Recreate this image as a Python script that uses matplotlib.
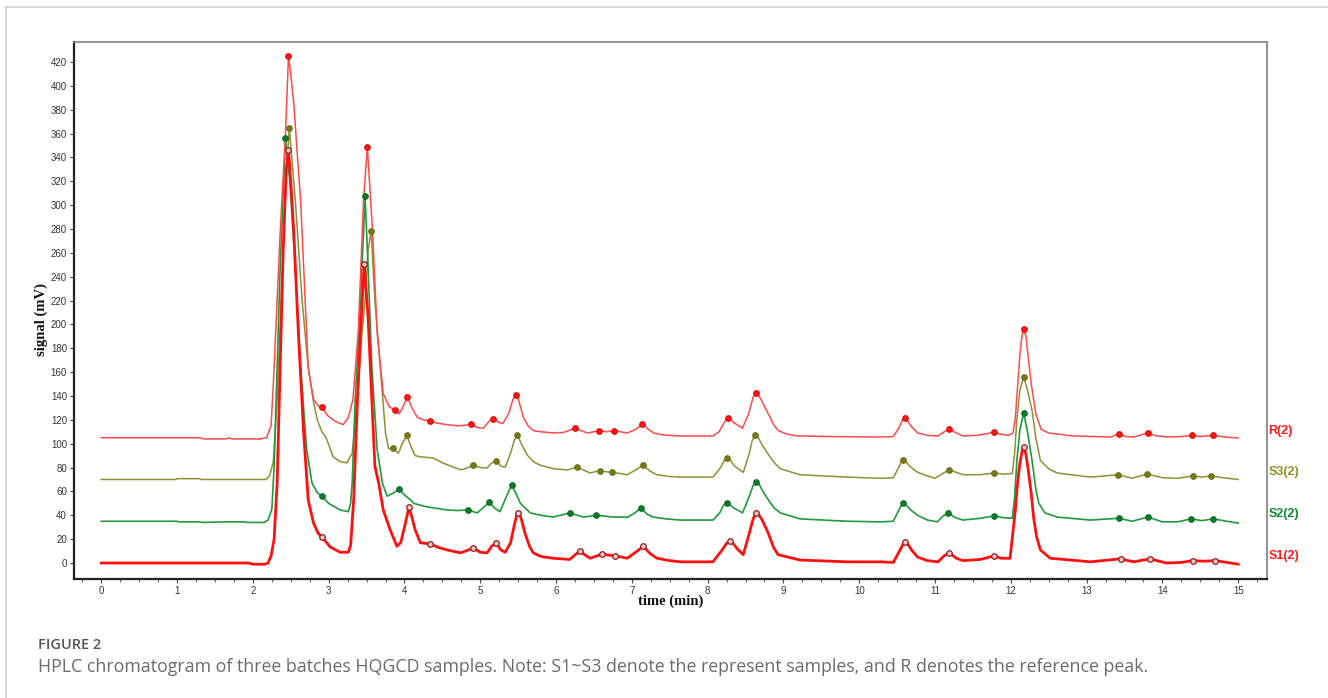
import matplotlib
matplotlib.use("Agg")
import matplotlib.pyplot as plt
from matplotlib.lines import Line2D
from matplotlib.ticker import MultipleLocator
import matplotlib.transforms as mtransforms

# ---------------- data ----------------
R_t = [0.0, 1.3, 1.36, 1.65, 1.68, 1.72, 2.1, 2.18, 2.24, 2.27, 2.30, 2.36, 2.43, 2.47, 2.50, 2.54,
       2.60, 2.63, 2.69, 2.73, 2.80, 2.86, 2.91, 2.98, 3.08, 3.19, 3.26, 3.32, 3.39, 3.46, 3.51, 3.58,
       3.64, 3.72, 3.80, 3.88, 3.93, 3.98, 4.04, 4.10, 4.17, 4.25, 4.34, 4.45, 4.56, 4.70, 4.80, 4.88,
       4.96, 5.04, 5.12, 5.17, 5.24, 5.30, 5.38, 5.43, 5.47, 5.50, 5.53, 5.57, 5.63, 5.70, 5.80, 5.96,
       6.10, 6.25, 6.33, 6.41, 6.50, 6.57, 6.66, 6.76, 6.85, 6.94, 7.05, 7.14, 7.22, 7.29, 7.40, 7.64,
       8.07, 8.15, 8.22, 8.27, 8.31, 8.36, 8.46, 8.54, 8.60, 8.64, 8.68, 8.72, 8.80, 8.87, 8.93, 9.05,
       9.18, 9.6, 10.28, 10.45, 10.53, 10.57, 10.60, 10.63, 10.68, 10.77, 10.90, 11.04, 11.12, 11.19,
       11.28, 11.37, 11.55, 11.70, 11.78, 11.86, 11.97, 12.03, 12.06, 12.08, 12.12, 12.15, 12.17, 12.20,
       12.22, 12.27, 12.33, 12.40, 12.50, 12.82, 13.31, 13.43, 13.52, 13.62, 13.81, 13.92, 14.1, 14.25,
       14.39, 14.50, 14.67, 14.8, 15.0]
R_v = [105, 105, 104, 104, 105, 104, 104, 105, 115, 150, 193, 277, 360, 425, 410, 385,
       330, 304, 220, 164, 137, 132, 131, 124, 119, 116, 122, 137, 193, 304, 349, 277,
       193, 142, 131, 128, 125, 131, 139, 130, 122, 120, 119, 117, 116, 115, 115.5, 116.5,
       113.5, 113, 119, 121, 118, 117, 126, 137, 141, 138, 131, 122, 115, 111, 110, 109,
       109.5, 113, 111, 109, 110, 111, 110, 111, 110, 109, 112, 116.5, 112, 109, 107.5, 106.5,
       106.5, 110, 118, 121.5, 120, 117, 113, 125, 139, 142.5, 140, 135, 125, 116, 111, 108,
       106.5, 106, 105.6, 106, 114, 120, 121.5, 120, 115, 109, 107, 106.5, 110, 112,
       109, 106.5, 107, 108.5, 110, 108, 107, 109, 122, 140, 175, 192, 196, 190,
       178, 150, 125, 112, 109, 106.5, 105.6, 108, 106, 105.6, 109, 106.5, 105.6, 106,
       107, 106, 107, 105.8, 104.8]

S3_t = [0, 0.98, 1.0, 1.3, 1.32, 2.17, 2.22, 2.27, 2.32, 2.39, 2.45, 2.48, 2.56, 2.65, 2.73, 2.80,
        2.85, 2.91, 2.96, 3.06, 3.15, 3.24, 3.31, 3.38, 3.44, 3.48, 3.52, 3.56, 3.61, 3.68, 3.75, 3.79,
        3.85, 3.92, 3.97, 4.03, 4.09, 4.14, 4.21, 4.38, 4.50, 4.64, 4.75, 4.84, 4.91, 5.00, 5.09, 5.15,
        5.21, 5.28, 5.33, 5.40, 5.45, 5.49, 5.55, 5.62, 5.70, 5.79, 5.97, 6.15, 6.28, 6.36, 6.45, 6.58,
        6.66, 6.74, 6.85, 6.94, 7.05, 7.15, 7.24, 7.33, 7.50, 7.64, 8.07, 8.16, 8.22, 8.26, 8.30, 8.36,
        8.47, 8.55, 8.59, 8.63, 8.67, 8.71, 8.79, 8.88, 8.96, 9.22, 9.84, 10.28, 10.45, 10.52, 10.56,
        10.58, 10.62, 10.67, 10.77, 10.90, 11.0, 11.10, 11.19, 11.28, 11.37, 11.60, 11.78, 11.90, 12.02,
        12.05, 12.08, 12.12, 12.17, 12.22, 12.28, 12.33, 12.39, 12.50, 12.61, 13.05, 13.42, 13.6, 13.8,
        14.0, 14.2, 14.4, 14.52, 14.64, 14.8, 15.0]
S3_v = [70, 70, 70.7, 70.7, 70, 70, 73, 85, 137, 248, 332, 365, 304, 220, 164, 135,
        120, 110, 106, 89, 85, 84, 92, 137, 193, 220, 262, 278, 220, 164, 109, 96,
        96, 92, 100, 107, 97, 90, 89, 88, 84, 80.5, 78, 80, 82, 80, 79.5, 84,
        85.5, 81, 80.5, 92, 103, 107, 99, 90.5, 85, 82, 79, 78, 80.5, 78, 75.5, 77.5,
        76.5, 76, 75, 74, 78, 82, 77, 74, 72.5, 72, 72, 79, 86, 88, 86, 81,
        76, 92, 103, 107, 105, 100, 92, 84, 79, 74, 72, 71, 71.5, 80, 85,
        86, 84.5, 81, 76, 73, 71, 75, 78, 76, 74, 74, 75.5, 74.5, 75,
        92, 120, 145, 156, 145, 128, 105, 86, 79, 75.5, 72, 74, 71, 74.5,
        71.5, 71, 73, 72, 73, 71.5, 70]

S2_t = [0, 1.0, 1.02, 1.3, 1.35, 1.65, 1.9, 1.92, 2.15, 2.20, 2.25, 2.28, 2.32, 2.36, 2.40, 2.43,
        2.49, 2.56, 2.63, 2.71, 2.78, 2.85, 2.91, 3.0, 3.15, 3.26, 3.29, 3.31, 3.35, 3.42, 3.46, 3.48,
        3.52, 3.57, 3.64, 3.71, 3.77, 3.85, 3.93, 4.00, 4.08, 4.12, 4.30, 4.56, 4.70, 4.84, 4.96, 5.05,
        5.12, 5.19, 5.26, 5.34, 5.39, 5.42, 5.48, 5.53, 5.66, 5.80, 5.96, 6.18, 6.36, 6.53, 6.76, 6.95,
        7.04, 7.12, 7.20, 7.28, 7.45, 7.64, 8.07, 8.16, 8.21, 8.25, 8.29, 8.35, 8.46, 8.55, 8.60, 8.64,
        8.68, 8.72, 8.80, 8.88, 8.96, 9.22, 9.84, 10.28, 10.45, 10.52, 10.56, 10.58, 10.62, 10.67, 10.77,
        10.90, 11.03, 11.10, 11.17, 11.27, 11.37, 11.60, 11.78, 11.90, 12.02, 12.05, 12.08, 12.12, 12.17,
        12.22, 12.28, 12.33, 12.37, 12.45, 12.61, 13.05, 13.43, 13.60, 13.81, 14.0, 14.2, 14.38, 14.52,
        14.67, 14.85, 15.0]
S2_v = [35, 35, 34.5, 34.5, 34, 34.5, 34.5, 34, 34, 36, 45, 80, 164, 248, 310, 356,
        318, 248, 164, 95, 67, 59, 56, 50, 44.5, 43, 50, 67, 137, 220, 277, 308,
        248, 164, 95, 67, 56, 58.5, 62, 57, 53, 50, 47, 44.5, 44, 44.5, 42, 47,
        51, 46, 43, 55, 62, 65, 57, 50, 42, 40, 38.5, 42, 38.5, 40, 38.5, 38.5,
        42, 46, 41, 38.5, 37, 36, 36, 42, 48.5, 50.5, 49, 46, 42, 56, 65, 68,
        66, 61, 53, 46, 42, 37, 35, 34.5, 35, 44, 49, 50, 48.5, 45, 40,
        36, 34.5, 39, 42, 38, 36, 37.5, 39.5, 38, 37.5, 55, 86, 112, 125.5,
        110, 86, 62, 50, 42, 38.5, 36, 37.5, 35, 38.5, 34.5, 34.5, 37, 35.5,
        37, 35, 33.5]

S1_t = [0, 1.95, 2.0, 2.16, 2.20, 2.24, 2.28, 2.32, 2.36, 2.40, 2.44, 2.47, 2.50, 2.54, 2.60, 2.67,
        2.73, 2.80, 2.86, 2.91, 3.02, 3.15, 3.26, 3.29, 3.33, 3.38, 3.42, 3.47, 3.52, 3.57, 3.61, 3.66,
        3.72, 3.81, 3.90, 3.95, 4.00, 4.06, 4.10, 4.14, 4.21, 4.34, 4.45, 4.56, 4.74, 4.91, 5.00, 5.09,
        5.15, 5.21, 5.27, 5.33, 5.40, 5.45, 5.48, 5.50, 5.53, 5.55, 5.59, 5.65, 5.70, 5.80, 5.96, 6.18,
        6.31, 6.40, 6.45, 6.61, 6.70, 6.78, 6.94, 7.05, 7.15, 7.24, 7.33, 7.50, 7.64, 8.07, 8.18, 8.25,
        8.30, 8.34, 8.39, 8.47, 8.55, 8.60, 8.64, 8.68, 8.72, 8.80, 8.87, 8.93, 9.22, 9.84, 10.28, 10.45,
        10.53, 10.58, 10.61, 10.64, 10.69, 10.77, 10.9, 11.04, 11.12, 11.19, 11.28, 11.37, 11.60, 11.78,
        11.87, 11.99, 12.06, 12.09, 12.12, 12.15, 12.17, 12.20, 12.23, 12.27, 12.30, 12.34, 12.39, 12.52,
        13.05, 13.45, 13.62, 13.84, 14.05, 14.25, 14.40, 14.55, 14.70, 14.85, 15.0]
S1_v = [0, 0, -1, -1, 0, 6, 20, 67, 164, 262, 330, 346, 320, 277, 193, 109,
        53, 33.5, 25, 22, 13.5, 9, 9, 15, 53, 137, 193, 251, 206, 137, 81, 67,
        44.5, 28, 14, 17, 30, 47, 38, 28, 17, 16, 13, 11, 8.5, 12.5, 9, 8.5,
        14, 17, 11, 9, 17, 32, 40, 42, 39, 35, 25, 14, 8.5, 5.5, 4, 3,
        10, 6, 4, 7.5, 6.5, 6, 4, 9, 14, 8, 4, 2, 1, 1, 10, 16.5,
        18.5, 16, 12, 7, 25, 37, 42, 40, 36, 25, 13, 7, 2.5, 1, 1, 0.5,
        10, 16, 17.5, 16, 11, 5, 2, 1, 6, 8.5, 4, 2, 3, 6,
        4, 4, 44.5, 68, 84, 94, 97, 91, 78, 58, 38.5, 22, 11, 4,
        1, 3.5, 1, 3.5, 0, 0.5, 2, 1.5, 2, 0.5, -1]

# integrated peak marks
R_pk_t = [2.47, 2.91, 3.51, 3.88, 4.04, 4.34, 4.88, 5.17, 5.47, 6.25, 6.57, 6.76, 7.14, 8.27, 8.64,
          10.60, 11.19, 11.78, 12.17, 13.43, 13.81, 14.39, 14.67]
R_pk_v = [425, 131, 349, 128, 139, 119, 116.5, 121, 141, 113, 111, 111, 116.5, 121.5, 142.5,
          121.5, 112, 110, 196, 108, 109, 107, 107]
S3_pk_t = [2.48, 3.56, 3.85, 4.03, 4.91, 5.21, 5.49, 6.28, 6.58, 6.74, 7.15, 8.26, 8.63, 10.58,
           11.19, 11.78, 12.17, 13.42, 13.80, 14.40, 14.64]
S3_pk_v = [365, 278, 96, 107, 82, 85.5, 107, 80.5, 77.5, 76, 82, 88, 107, 86,
           78, 75.5, 156, 74, 74.5, 73, 73]
S2_pk_t = [2.43, 2.91, 3.48, 3.93, 4.84, 5.12, 5.42, 6.18, 6.53, 7.12, 8.25, 8.64, 10.58, 11.17,
           11.78, 12.17, 13.43, 13.81, 14.38, 14.67]
S2_pk_v = [356, 56, 308, 62, 44.5, 51, 65, 42, 40, 46, 50.5, 68, 50, 42,
           39.5, 125.5, 37.5, 38.5, 37, 37]
S1_pk_t = [2.47, 2.91, 3.47, 4.06, 4.34, 4.91, 5.21, 5.50, 6.31, 6.61, 6.78, 7.15, 8.30, 8.64,
           10.61, 11.19, 11.78, 12.17, 13.45, 13.84, 14.40, 14.70]
S1_pk_v = [346, 22, 251, 47, 16, 12.5, 17, 42, 10, 7.5, 6, 14, 18.5, 42,
           17.5, 8.5, 6, 97, 3.5, 3.5, 2, 2]

series_names = ["R(2)", "S3(2)", "S2(2)", "S1(2)"]
series_baselines = [105, 70, 35, 0]

# ---------------- figure ----------------
fig = plt.figure(figsize=(13.28, 6.98), dpi=100)
fig.patch.set_facecolor("white")

# outer panel border (top + left)
fig.add_artist(Line2D([6 / 1328, 1327 / 1328], [1 - 7 / 698, 1 - 7 / 698], transform=fig.transFigure,
                      color="#d0d0d0", lw=1.2))
fig.add_artist(Line2D([6 / 1328, 6 / 1328], [0, 1 - 7 / 698], transform=fig.transFigure,
                      color="#d0d0d0", lw=1.2))

ax = fig.add_axes([74 / 1328, 1 - 579 / 698, (1267 - 74) / 1328, (579 - 42) / 698])
ax.set_xlim(-0.36, 15.38)
ax.set_ylim(-13.4, 436.7)

colors = {"R": "#ff4a4a", "S3": "#8f8f35", "S2": "#1f9a3c", "S1": "#ff1010"}

ax.plot(S3_t, S3_v, color=colors["S3"], lw=1.1, zorder=3)
ax.plot(S2_t, S2_v, color=colors["S2"], lw=1.2, zorder=4)
ax.plot(R_t, R_v, color=colors["R"], lw=1.1, zorder=5)
ax.plot(S1_t, S1_v, color=colors["S1"], lw=2.0, zorder=6)

ax.plot(R_pk_t, R_pk_v, ls="none", marker="o", ms=4, mfc="#ff1a1a", mec="#e00000", mew=0.8, zorder=7)
ax.plot(S3_pk_t, S3_pk_v, ls="none", marker="o", ms=4, mfc="#7a7a1c", mec="#6b6b10", mew=0.8, zorder=7)
ax.plot(S2_pk_t, S2_pk_v, ls="none", marker="o", ms=4, mfc="#0f7a2c", mec="#0a6a22", mew=0.8, zorder=7)
ax.plot(S1_pk_t, S1_pk_v, ls="none", marker="o", ms=4, mfc="#f6c8c8", mec="#8b1a1a", mew=0.9, zorder=8)

# right-hand series labels
trans = mtransforms.blended_transform_factory(ax.transAxes, ax.transData)
lab_colors = ["#ff1a1a", "#8f8f20", "#0f8a30", "#ff1a1a"]
for name, base, c in zip(series_names, series_baselines, lab_colors):
    ax.text(1.001, base + 6, name, transform=trans, color=c, fontsize=9, fontweight="bold",
            family="Liberation Sans", va="center", ha="left", clip_on=False)

# spines
for s in ["top", "right"]:
    ax.spines[s].set_color("#808080")
    ax.spines[s].set_linewidth(1.2)
for s in ["left", "bottom"]:
    ax.spines[s].set_color("#222222")
    ax.spines[s].set_linewidth(1.6)

ax.xaxis.set_minor_locator(MultipleLocator(0.25))
ax.set_yticks(list(range(0, 421, 20)))
ax.set_xticks(list(range(0, 16)))
ax.tick_params(axis="both", which="major", direction="out", length=3, width=0.8, color="#444444",
               labelsize=7, labelcolor="#333333", pad=2)
ax.tick_params(axis="x", which="minor", direction="out", length=2, width=0.6, color="#444444")
ax.tick_params(axis="y", which="minor", left=False)
for lbl in ax.get_xticklabels() + ax.get_yticklabels():
    lbl.set_family("Liberation Sans")

fig.text(671 / 1328, 1 - 601 / 698, "time (min)", ha="center", va="center", fontsize=10.5,
         fontweight="bold", family="Liberation Serif", color="#111111")
fig.text(41 / 1328, 1 - 319 / 698, "signal (mV)", ha="center", va="center", rotation=90,
         fontsize=10.5, fontweight="bold", family="Liberation Serif", color="#111111")

# caption
fig.text(38 / 1328, 1 - 645 / 698, "FIGURE 2", ha="left", va="center", fontsize=10.5,
         fontweight="semibold", family="Open Sans", color="#555555")
fig.text(38 / 1328, 1 - 667 / 698,
         "HPLC chromatogram of three batches HQGCD samples. Note: S1~S3 denote the represent samples, "
         "and R denotes the reference peak.",
         ha="left", va="center", fontsize=12.8, family="Open Sans", color="#6a6a6a")

fig.savefig("out.png", dpi=100, facecolor="white")
